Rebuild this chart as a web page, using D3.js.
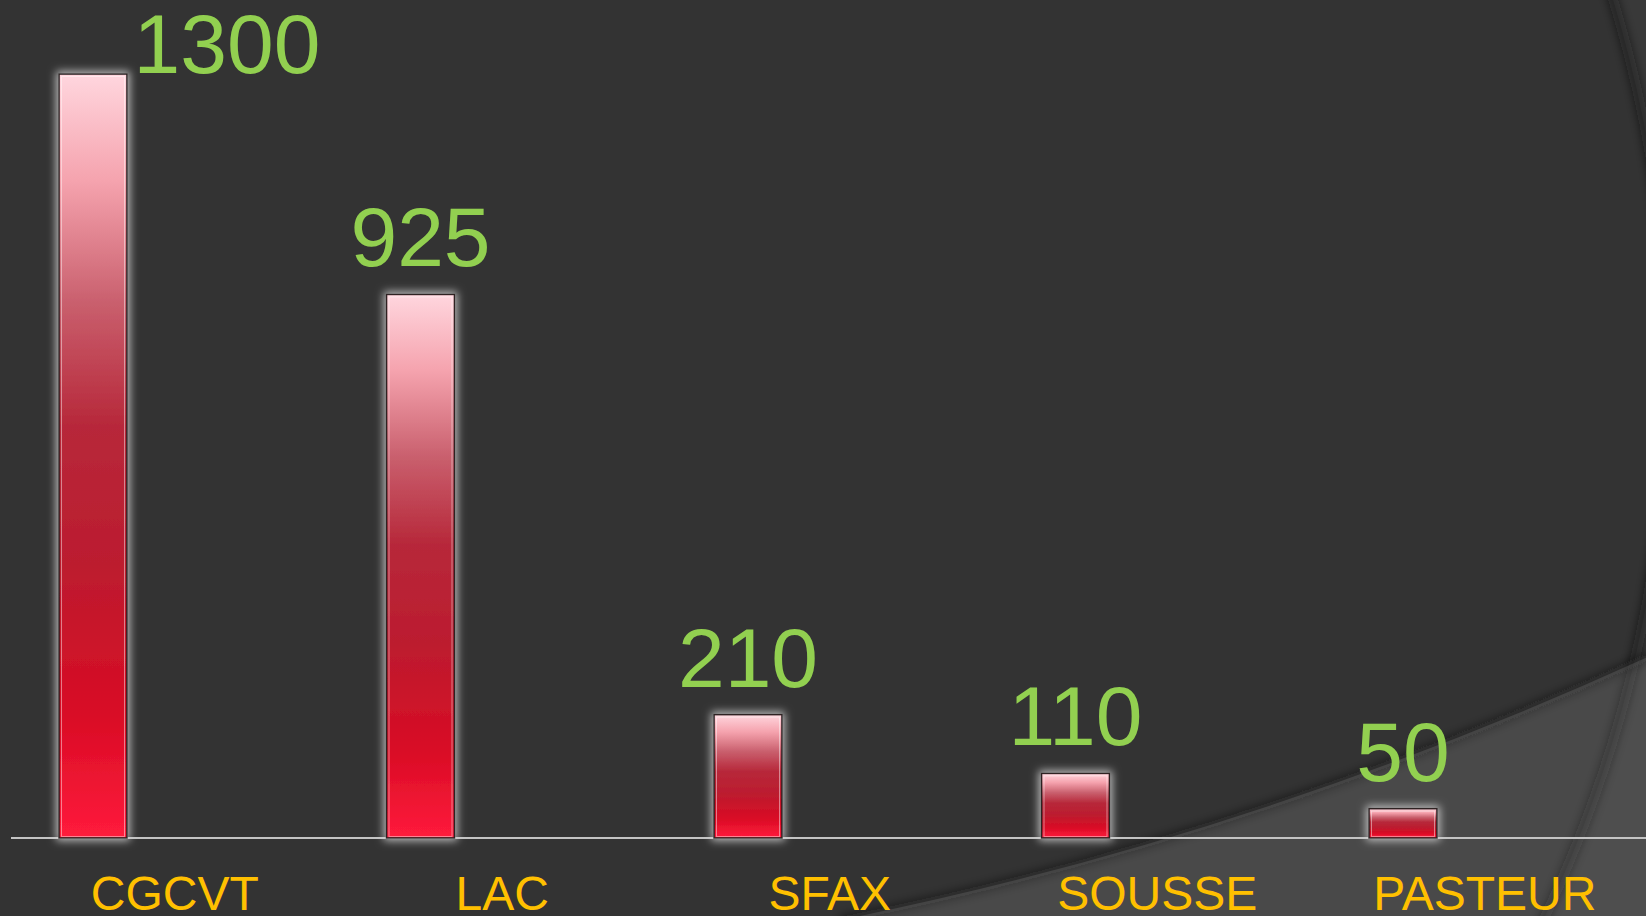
<!DOCTYPE html>
<html>
<head>
<meta charset="utf-8">
<script src="https://cdn.jsdelivr.net/npm/d3@7"></script>
<style>
  html, body { margin: 0; padding: 0; background: #333333; overflow: hidden; }
  svg { display: block; }
</style>
</head>
<body>
<div id="chart"></div>
<script>
// chart data
let categories = ["CGCVT", "LAC", "SFAX", "SOUSSE", "PASTEUR"];
let values = [1300, 925, 210, 110, 50];

let width = 1646, height = 916;
let baseY = 838;   // category axis line
let topY = 74;     // top of the biggest bar

let svg = d3.select("#chart").append("svg")
	.attr("width", width)
	.attr("height", height);

let defs = svg.append("defs");

// bar gradient, light pink on top to bright red at the bottom
let grad = defs.append("linearGradient")
	.attr("id", "barGrad")
	.attr("x1", 0).attr("y1", 0).attr("x2", 0).attr("y2", 1);
[[0, "#ffd6de"], [0.14, "#f5a3ae"], [0.30, "#c95f6d"], [0.46, "#b7283a"],
 [0.64, "#bc1c2f"], [0.84, "#d90c25"], [1, "#ff1b3c"]]
	.forEach((s) => grad.append("stop").attr("offset", s[0]).attr("stop-color", s[1]));

// soft grey glow round the bars
let glow = defs.append("filter").attr("id", "glow")
	.attr("x", "-50%").attr("y", "-50%").attr("width", "200%").attr("height", "200%");
glow.append("feMorphology").attr("in", "SourceAlpha").attr("operator", "dilate").attr("radius", 2).attr("result", "d");
glow.append("feGaussianBlur").attr("in", "d").attr("stdDeviation", 4.5).attr("result", "b");
glow.append("feFlood").attr("flood-color", "#d4d4d4").attr("flood-opacity", 0.85);
glow.append("feComposite").attr("in2", "b").attr("operator", "in").attr("result", "g");
let merge = glow.append("feMerge");
merge.append("feMergeNode").attr("in", "g");
merge.append("feMergeNode").attr("in", "SourceGraphic");

defs.append("filter").attr("id", "blur")
	.attr("x", "-20%").attr("y", "-20%").attr("width", "140%").attr("height", "140%")
	.append("feGaussianBlur").attr("stdDeviation", 5);

// background decoration (theme arcs)
let cx = 392, cy = 370, r = 1276;
let circlePath = `M ${cx - r} ${cy} A ${r} ${r} 0 1 0 ${cx + r} ${cy} A ${r} ${r} 0 1 0 ${cx - r} ${cy} Z`;

let bg = svg.append("g");
bg.append("rect").attr("width", width).attr("height", height).attr("fill", "#333333");
bg.append("circle").attr("cx", cx).attr("cy", cy).attr("r", r)
	.attr("fill", "none").attr("stroke", "#111").attr("stroke-width", 10)
	.attr("stroke-opacity", 0.55).attr("filter", "url(#blur)");
bg.append("path")
	.attr("d", `M 0 0 H ${width} V ${height} H 0 Z ` + circlePath)
	.attr("fill-rule", "evenodd")
	.attr("fill", "#ffffff").attr("fill-opacity", 0.03);

let lowerCurve = `M 840 ${height + 4} Q 1250 838 ${width + 4} 656`;
bg.append("path").attr("d", lowerCurve)
	.attr("fill", "none").attr("stroke", "#111").attr("stroke-width", 8)
	.attr("stroke-opacity", 0.5).attr("filter", "url(#blur)");
bg.append("path").attr("d", lowerCurve + ` L ${width + 4} ${height + 4} Z`)
	.attr("fill", "#ffffff").attr("fill-opacity", 0.11);

// scales
let x = d3.scaleBand()
	.domain(categories)
	.range([11, 11 + 327.5 * categories.length])
	.padding(0);

let y = d3.scaleLinear()
	.domain([0, d3.max(values)])
	.range([baseY, topY]);

let data = categories.map((c, i) => ({ cat: c, val: values[i] }));

let barW = 68, barOff = 48;

// axis line with the category labels
let axis = svg.append("g")
	.attr("transform", `translate(0, ${baseY})`)
	.call(d3.axisBottom(x).tickSize(0).tickPadding(0));
axis.select(".domain")
	.attr("d", `M 11 0 H ${width}`)
	.attr("stroke", "#c4c4c4")
	.attr("stroke-width", 2);
axis.selectAll(".tick text")
	.attr("y", 72)
	.attr("dy", 0)
	.attr("fill", "#ffc000")
	.style("font-family", "'Liberation Sans', Arial, sans-serif")
	.style("font-size", "48px");

// bars
let bars = svg.selectAll(".bar")
	.data(data)
	.enter()
	.append("g")
	.attr("class", "bar");

bars.append("rect")
	.attr("x", (d) => x(d.cat) + barOff)
	.attr("y", (d) => y(d.val))
	.attr("width", barW)
	.attr("height", (d) => baseY - y(d.val))
	.attr("fill", "url(#barGrad)")
	.attr("stroke", "#2e2224")
	.attr("stroke-width", 1.6)
	.attr("filter", "url(#glow)");

// inner highlight edge
bars.append("rect")
	.attr("x", (d) => x(d.cat) + barOff + 2.5)
	.attr("y", (d) => y(d.val) + 2.5)
	.attr("width", barW - 5)
	.attr("height", (d) => Math.max(0, baseY - y(d.val) - 4))
	.attr("fill", "none")
	.attr("stroke", "#ffffff")
	.attr("stroke-opacity", 0.45)
	.attr("stroke-width", 1);

// value labels; a label that would go off the top is moved to the right of its bar
let capH = 62;
svg.selectAll(".val")
	.data(data)
	.enter()
	.append("text")
	.attr("class", "val")
	.attr("x", (d) => {
		let c = x(d.cat) + barOff + barW / 2;
		return (y(d.val) - 28 - capH < 0) ? c + 134 : c;
	})
	.attr("y", (d) => (y(d.val) - 28 - capH < 0) ? y(d.val) - 1 : y(d.val) - 28)
	.attr("text-anchor", "middle")
	.attr("fill", "#92d050")
	.style("font-family", "'Liberation Sans', Arial, sans-serif")
	.style("font-size", "84px")
	.text((d) => d.val);
</script>
</body>
</html>
